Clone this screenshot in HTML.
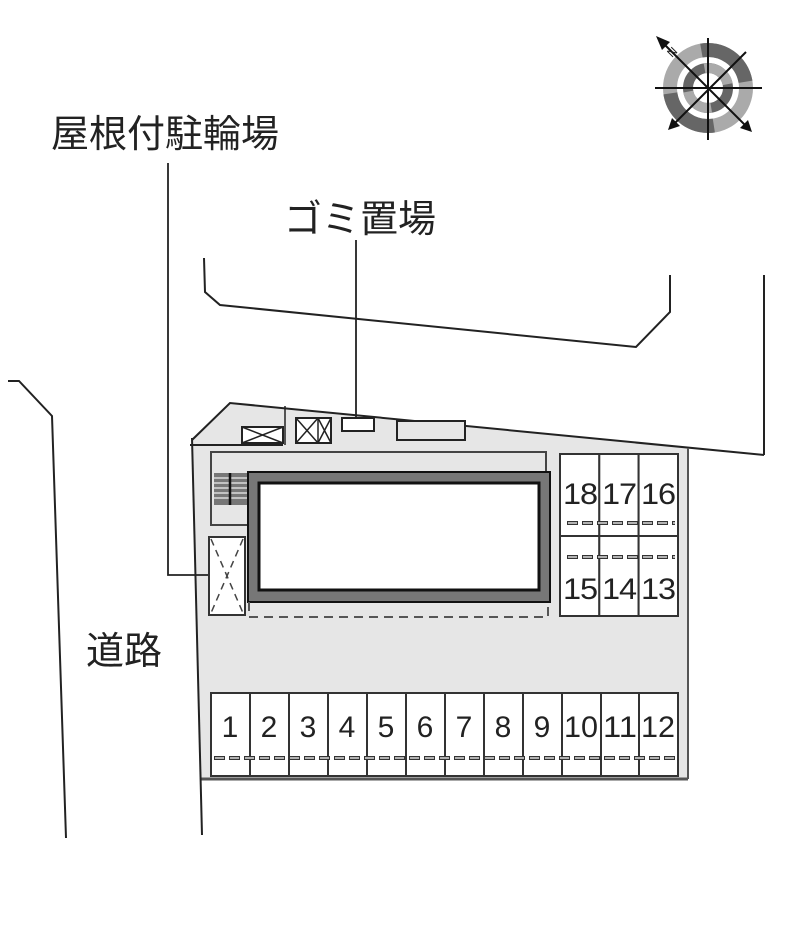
<!DOCTYPE html>
<html><head><meta charset="utf-8"><style>
html,body{margin:0;padding:0;background:#fff;width:800px;height:941px;overflow:hidden}
svg{display:block}
text{font-family:"Liberation Sans","Noto Sans CJK JP",sans-serif;fill:#222}
</style></head><body>
<svg width="800" height="941" viewBox="0 0 800 941" xmlns="http://www.w3.org/2000/svg">
<polygon points="192,438 230,403 688,448 688,779 200,779" fill="#e6e6e6"/>
<g fill="none" stroke="#222" stroke-width="2">
<polyline points="192,440 230,403 764,455"/>
<line x1="688" y1="448" x2="688" y2="779" stroke="#555"/>
<line x1="200" y1="779" x2="688" y2="779" stroke="#555" stroke-width="3"/>
<line x1="192" y1="438" x2="202" y2="835"/>
<polyline points="8,381 19,381 52,416 66,838"/>
<polyline points="204,258 205,292 220,305 636,347 670,312 670,275"/>
<line x1="764" y1="275" x2="764" y2="455"/>
<line x1="190" y1="445" x2="283" y2="445"/>
<line x1="285" y1="406" x2="285" y2="445" stroke-width="1.5"/>
<polyline points="168,163 168,575 218,575" stroke-width="1.8"/>
<line x1="356" y1="240" x2="356" y2="422" stroke-width="1.8"/>
</g>
<g fill="#fff" stroke="#222" stroke-width="2">
<rect x="242" y="427" width="41" height="16"/>
<rect x="296" y="418" width="35" height="25"/>
<rect x="342" y="418" width="32" height="13"/>
<rect x="397" y="421" width="68" height="19" fill="#e6e6e6"/>
</g>
<g stroke="#222" stroke-width="1.5">
<line x1="242" y1="427" x2="283" y2="443"/><line x1="283" y1="427" x2="242" y2="443"/>
<line x1="296" y1="418" x2="318" y2="443"/><line x1="318" y1="418" x2="296" y2="443"/>
<line x1="318" y1="418" x2="318" y2="443"/>
<line x1="318" y1="418" x2="331" y2="443"/><line x1="331" y1="418" x2="318" y2="443"/>
</g>
<polyline points="248,452 546,452 546,472" fill="none" stroke="#444" stroke-width="2"/>
<polyline points="248,452 211,452 211,525 248,525" fill="none" stroke="#444" stroke-width="2"/>
<rect x="214" y="473" width="34" height="32" fill="#777"/>
<g stroke="#eee" stroke-width="1.2">
<line x1="214" y1="478" x2="248" y2="478"/><line x1="214" y1="483" x2="248" y2="483"/>
<line x1="214" y1="488" x2="248" y2="488"/><line x1="214" y1="493" x2="248" y2="493"/>
<line x1="214" y1="498" x2="248" y2="498"/>
</g>
<line x1="230" y1="473" x2="230" y2="505" stroke="#111" stroke-width="2.5"/>
<rect x="248" y="472" width="302" height="130" fill="#777" stroke="#111" stroke-width="2"/>
<rect x="259" y="483" width="280" height="107" fill="#fff" stroke="#111" stroke-width="3"/>
<polyline points="249,602 249,617 548,617 548,602" fill="none" stroke="#555" stroke-width="2" stroke-dasharray="9,6"/>
<rect x="209" y="537" width="36" height="78" fill="#fff" stroke="#333" stroke-width="2"/>
<g stroke="#444" stroke-width="1.5" stroke-dasharray="7,5">
<line x1="211" y1="539" x2="243" y2="613"/><line x1="243" y1="539" x2="211" y2="613"/>
</g>
<g fill="#fff" stroke="#333" stroke-width="2">
<rect x="560" y="454" width="39.3" height="82"/><rect x="599.3" y="454" width="39.3" height="82"/><rect x="638.6" y="454" width="39.4" height="82"/>
<rect x="560" y="536" width="39.3" height="80"/><rect x="599.3" y="536" width="39.3" height="80"/><rect x="638.6" y="536" width="39.4" height="80"/>
</g>
<g font-size="30" text-anchor="middle" letter-spacing="-1">
<text x="580" y="504" textLength="34" lengthAdjust="spacingAndGlyphs">18</text><text x="619" y="504" textLength="34" lengthAdjust="spacingAndGlyphs">17</text><text x="658" y="504" textLength="34" lengthAdjust="spacingAndGlyphs">16</text>
<text x="580" y="599" textLength="34" lengthAdjust="spacingAndGlyphs">15</text><text x="619" y="599" textLength="34" lengthAdjust="spacingAndGlyphs">14</text><text x="658" y="599" textLength="34" lengthAdjust="spacingAndGlyphs">13</text>
</g>
<g stroke="#333" stroke-width="4" stroke-dasharray="11,4">
<line x1="567" y1="523" x2="675" y2="523"/>
<line x1="567" y1="557" x2="675" y2="557"/>
</g>
<g stroke="#fff" stroke-width="1.2" stroke-dasharray="9,6" stroke-dashoffset="-1">
<line x1="567" y1="523" x2="675" y2="523"/>
<line x1="567" y1="557" x2="675" y2="557"/>
</g>
<g fill="#fff" stroke="#333" stroke-width="2">
<rect x="211" y="693" width="39" height="83"/><rect x="250" y="693" width="39" height="83"/><rect x="289" y="693" width="39" height="83"/>
<rect x="328" y="693" width="39" height="83"/><rect x="367" y="693" width="39" height="83"/><rect x="406" y="693" width="39" height="83"/>
<rect x="445" y="693" width="39" height="83"/><rect x="484" y="693" width="39" height="83"/><rect x="523" y="693" width="39" height="83"/>
<rect x="562" y="693" width="39" height="83"/><rect x="601" y="693" width="38" height="83"/><rect x="639" y="693" width="39" height="83"/>
</g>
<g font-size="30" text-anchor="middle">
<text x="230" y="737">1</text><text x="269" y="737">2</text><text x="308" y="737">3</text><text x="347" y="737">4</text>
<text x="386" y="737">5</text><text x="425" y="737">6</text><text x="464" y="737">7</text><text x="503" y="737">8</text>
<text x="542" y="737">9</text><text x="581" y="737" textLength="34" lengthAdjust="spacingAndGlyphs">10</text><text x="620" y="737" textLength="34" lengthAdjust="spacingAndGlyphs">11</text><text x="658" y="737" textLength="34" lengthAdjust="spacingAndGlyphs">12</text>
</g>
<line x1="214" y1="758" x2="676" y2="758" stroke="#333" stroke-width="4" stroke-dasharray="11,4"/>
<line x1="214" y1="758" x2="676" y2="758" stroke="#fff" stroke-width="1.2" stroke-dasharray="9,6" stroke-dashoffset="-1"/>
<circle cx="708" cy="88" r="38" fill="none" stroke="#aaa" stroke-width="14"/>
<circle cx="708" cy="88" r="38" fill="none" stroke="#666" stroke-width="14" stroke-dasharray="60,60" transform="rotate(-100 708 88)"/>
<circle cx="708" cy="88" r="20" fill="none" stroke="#666" stroke-width="10"/>
<circle cx="708" cy="88" r="20" fill="none" stroke="#aaa" stroke-width="10" stroke-dasharray="31,32" transform="rotate(-100 708 88)"/>
<g stroke="#111" stroke-width="2">
<line x1="708" y1="38" x2="708" y2="140"/><line x1="655" y1="88" x2="762" y2="88"/>
<line x1="660" y1="40" x2="750" y2="130"/><line x1="746" y1="52" x2="670" y2="128"/>
</g>
<polygon points="656,36 670,42 662,50" fill="#111"/>
<polygon points="752,132 740,128 748,120" fill="#111"/>
<polygon points="668,130 672,118 680,126" fill="#111"/>
<text x="672" y="58" font-size="12" transform="rotate(-45 672 58)">N</text>
<text x="51" y="147" font-size="38">屋根付駐輪場</text>
<text x="284" y="232" font-size="38">ゴミ置場</text>
<text x="86" y="664" font-size="38">道路</text>
</svg>
</body></html>
